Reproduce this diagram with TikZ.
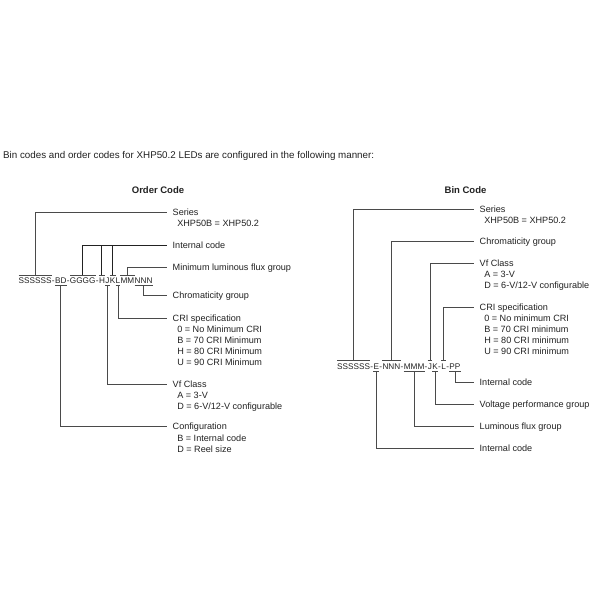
\documentclass[tikz,border=0pt]{standalone}
\usepackage{fontspec}
\setmainfont{Liberation Sans}
\definecolor{txt}{HTML}{222222}
\definecolor{ln}{HTML}{4A4A4A}
\begin{document}
\begin{tikzpicture}[x=1pt,y=-1pt,
  code/.style={inner sep=0pt, anchor=base west, text height=6pt, text depth=0pt, text=txt, font=\fontsize{8.2}{10}\selectfont},
  lab/.style={anchor=west, inner xsep=5.5pt, inner ysep=0pt, text height=6.5pt, text depth=0pt, text=txt, font=\fontsize{9.1}{11}\selectfont},
  det/.style={anchor=north west, inner sep=0pt, align=left, text=txt, font=\fontsize{9.1}{11}\selectfont},
  conn/.style={draw=ln, line width=0.8pt},
  heavy/.style={draw=txt, line width=0.95pt},
  ttl/.style={inner sep=0pt, text=txt, font=\fontsize{9.5}{11}\selectfont\bfseries}
]
\useasboundingbox[fill=white] (0,0) rectangle (600,600);

% intro and titles
\node[anchor=base west, inner sep=0pt, text=txt, font=\fontsize{9.8}{11}\selectfont] (intro) at (3,158.5) {Bin codes and order codes for XHP50.2 LEDs are configured in the following manner:};
\node[ttl] (otitle) at (158,190.5) {Order Code};
\node[ttl] (btitle) at (465.5,190) {Bin Code};

% ---------------- Order code string
\node[code] (o1) at (18.5,283.5) {SSSSSS};
\node[code] (o2) at (o1.base east) {-};
\node[code] (o3) at (o2.base east) {BD};
\node[code] (o4) at (o3.base east) {-};
\node[code] (o5) at (o4.base east) {GGGG};
\node[code] (o6) at (o5.base east) {-};
\node[code] (oH) at (o6.base east) {H};
\node[code] (oJ) at (oH.base east) {J};
\node[code] (oK) at (oJ.base east) {K};
\node[code] (oL) at (oK.base east) {L};
\node[code] (oM) at (oL.base east) {MM};
\node[code] (oN) at (oM.base east) {NNN};

% order labels
\node[lab] (oSer) at (167,212) {Series};
\node[det] (oSerD) at ([xshift=10.1pt,yshift=-7.8pt]oSer.west) {XHP50B = XHP50.2};
\node[lab] (oInt) at (167,245) {Internal code};
\node[lab] (oMin) at (167,267) {Minimum luminous flux group};
\node[lab] (oChr) at (167,295.5) {Chromaticity group};
\node[lab] (oCri) at (167,318) {CRI specification};
\node[det] (oCriD) at ([xshift=10.1pt,yshift=-7.8pt]oCri.west) {0 = No Minimum CRI\\B = 70 CRI Minimum\\H = 80 CRI Minimum\\U = 90 CRI Minimum};
\node[lab] (oVf) at (167,384) {Vf Class};
\node[det] (oVfD) at ([xshift=10.1pt,yshift=-7.8pt]oVf.west) {A = 3-V\\D = 6-V/12-V configurable};
\node[lab] (oCfg) at (167,426.5) {Configuration};
\node[det] (oCfgD) at ([xshift=10.1pt,yshift=-7.8pt]oCfg.west) {B = Internal code\\D = Reel size};

% order bars and connectors
\draw[conn] ([yshift=2.4pt]o1.north west) -- ([yshift=2.4pt]o1.north east);
\draw[conn] ([yshift=2.4pt]o1.north) |- (oSer.west);
\draw[conn] ([yshift=2.4pt]o5.north west) -- ([yshift=2.4pt]o5.north east);
\draw[heavy] ([yshift=2.4pt]o5.north) |- (oInt.west);
\draw[conn] ([yshift=2.4pt]oH.north west) -- ([yshift=2.4pt]oH.north east);
\draw[heavy] ([yshift=2.4pt]oH.north) -- (oH.north |- oInt.west);
\draw[conn] ([yshift=2.4pt]oK.north west) -- ([yshift=2.4pt]oK.north east);
\draw[heavy] ([yshift=2.4pt]oK.north) -- (oK.north |- oInt.west);
\draw[conn] ([yshift=2.4pt]oM.north west) -- ([yshift=2.4pt]oM.north east);
\draw[conn] ([yshift=2.4pt]oM.north) |- (oMin.west);
\draw[conn] ([yshift=-2pt]oN.south west) -- ([yshift=-2pt]oN.south east);
\draw[conn] ([yshift=-2pt]oN.south) |- (oChr.west);
\draw[conn] ([yshift=-2pt]oL.south west) -- ([yshift=-2pt]oL.south east);
\draw[conn] ([yshift=-2pt]oL.south) |- (oCri.west);
\draw[conn] ([yshift=-2pt]oJ.south west) -- ([yshift=-2pt]oJ.south east);
\draw[conn] ([yshift=-2pt]oJ.south) |- (oVf.west);
\draw[conn] ([yshift=-2pt]o3.south west) -- ([yshift=-2pt]o3.south east);
\draw[conn] ([yshift=-2pt]o3.south) |- (oCfg.west);

% ---------------- Bin code string
\node[code] (b1) at (337,369) {SSSSSS};
\node[code] (b2) at (b1.base east) {-};
\node[code] (bE) at (b2.base east) {E};
\node[code] (b3) at (bE.base east) {-};
\node[code] (bN) at (b3.base east) {NNN};
\node[code] (b4) at (bN.base east) {-};
\node[code] (bM) at (b4.base east) {MMM};
\node[code] (b5) at (bM.base east) {-};
\node[code] (bJ) at (b5.base east) {J};
\node[code] (bK) at (bJ.base east) {K};
\node[code] (b6) at (bK.base east) {-};
\node[code] (bL) at (b6.base east) {L};
\node[code] (b7) at (bL.base east) {-};
\node[code] (bP) at (b7.base east) {PP};

% bin labels
\node[lab] (bSer) at (474,209.5) {Series};
\node[det] (bSerD) at ([xshift=10.1pt,yshift=-7.8pt]bSer.west) {XHP50B = XHP50.2};
\node[lab] (bChr) at (474,241) {Chromaticity group};
\node[lab] (bVf) at (474,263.5) {Vf Class};
\node[det] (bVfD) at ([xshift=10.1pt,yshift=-7.8pt]bVf.west) {A = 3-V\\D = 6-V/12-V configurable};
\node[lab] (bCri) at (474,307) {CRI specification};
\node[det] (bCriD) at ([xshift=10.1pt,yshift=-7.8pt]bCri.west) {0 = No minimum CRI\\B = 70 CRI minimum\\H = 80 CRI minimum\\U = 90 CRI minimum};
\node[lab] (bInt1) at (474,382) {Internal code};
\node[lab] (bVpg) at (474,404) {Voltage performance group};
\node[lab] (bLfg) at (474,426) {Luminous flux group};
\node[lab] (bInt2) at (474,448) {Internal code};

% bin bars and connectors
\draw[conn] ([yshift=2.4pt]b1.north west) -- ([yshift=2.4pt]b1.north east);
\draw[conn] ([yshift=2.4pt]b1.north) |- (bSer.west);
\draw[conn] ([yshift=2.4pt]bN.north west) -- ([yshift=2.4pt]bN.north east);
\draw[conn] ([yshift=2.4pt]bN.north) |- (bChr.west);
\draw[conn] ([yshift=2.4pt]bJ.north west) -- ([yshift=2.4pt]bJ.north east);
\draw[conn] ([yshift=2.4pt]bJ.north) |- (bVf.west);
\draw[conn] ([yshift=2.4pt]bL.north west) -- ([yshift=2.4pt]bL.north east);
\draw[conn] ([yshift=2.4pt]bL.north) |- (bCri.west);
\draw[conn] ([yshift=-2pt]bP.south west) -- ([yshift=-2pt]bP.south east);
\draw[conn] ([yshift=-2pt]bP.south) |- (bInt1.west);
\draw[conn] ([yshift=-2pt]bK.south west) -- ([yshift=-2pt]bK.south east);
\draw[conn] ([yshift=-2pt]bK.south) |- (bVpg.west);
\draw[conn] ([yshift=-2pt]bM.south west) -- ([yshift=-2pt]bM.south east);
\draw[conn] ([yshift=-2pt]bM.south) |- (bLfg.west);
\draw[conn] ([yshift=-2pt]bE.south west) -- ([yshift=-2pt]bE.south east);
\draw[conn] ([yshift=-2pt]bE.south) |- (bInt2.west);
\end{tikzpicture}
\end{document}
